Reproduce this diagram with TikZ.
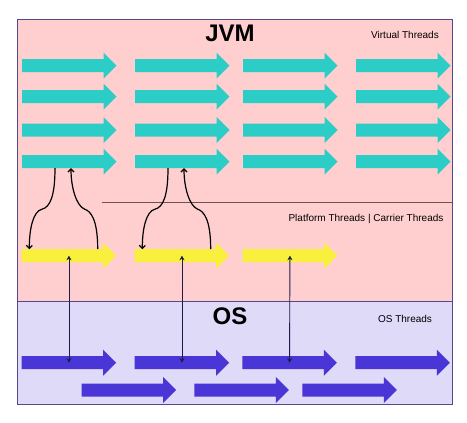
\documentclass[tikz,border=0pt]{standalone}
\usepackage{fontspec}
\setmainfont{Liberation Sans}
\usetikzlibrary{arrows.meta}
\definecolor{jvmpink}{HTML}{FFCFCF}
\definecolor{ospurple}{HTML}{DEDAF7}
\definecolor{boxline}{HTML}{56488C}
\definecolor{vteal}{HTML}{2BCDC6}
\definecolor{pyellow}{HTML}{F8F03C}
\definecolor{oblue}{HTML}{4A36D6}
\definecolor{linknavy}{HTML}{1C1C48}
\definecolor{splitline}{HTML}{6B5353}

\tikzset{
	thread/.pic={
		\fill[#1] (0,-6.5) -- (81.5,-6.5) -- (81.5,-13) -- (94.5,0) -- (81.5,13) -- (81.5,6.5) -- (0,6.5) -- cycle;
		\coordinate (-tail) at (0,0);
		\coordinate (-mid) at (47.25,0);
	},
	hop/.style={line width=1.2,-{Straight Barb[length=3pt,width=6pt]}},
	link/.style={linknavy,line width=0.9,{Stealth[length=4.5pt,width=5pt]}-{Stealth[length=4.5pt,width=5pt]}}
}

\begin{document}
\begin{tikzpicture}[x=1pt,y=-1pt]
	\useasboundingbox (0,0) rectangle (467,423);
	\coordinate (tl) at (17.5,19.5);
	\coordinate (br) at (452,404);
	\coordinate (split) at (17.5,301.7);
	\coordinate (cut) at (101.7,202.7);
	\fill[jvmpink] (tl) rectangle (br |- split);
	\fill[ospurple] (split) rectangle (br);
	\draw[splitline,line width=0.9] (cut) -- (cut -| br);
	\draw[boxline,line width=0.9] (tl) rectangle (br);
	\draw[boxline,line width=0.9] (split) -- (split -| br);
	\node[font=\bfseries\fontsize{24}{24}\selectfont] (jvm) at (230,33.5) {JVM};
	\node[font=\bfseries\fontsize{24}{24}\selectfont] (os) at (230,316) {OS};
	\node (vlabel) at (405,35) {Virtual Threads};
	\node (plabel) at (366,219) {Platform Threads | Carrier Threads};
	\node (olabel) at (405,319) {OS Threads};
	\foreach \r/\y in {1/65.7,2/96.7,3/130,4/161.7}
		\foreach \c/\x in {1/22,2/135,3/243,4/356}
			\pic (v\r\c) at (\x,\y) {thread=vteal};
	\foreach \c/\x in {1/21.7,2/134.7,3/242.7}
		\pic (p\c) at (\x,255.7) {thread=pyellow};
	\foreach \c/\x in {1/21.7,2/134.7,3/242.3,4/355.3}
		\pic (o\c) at (\x,362.7) {thread=oblue};
	\foreach \c/\x in {5/81.7,6/194.3,7/302.3}
		\pic (o\c) at (\x,390) {thread=oblue};
	\foreach \c in {1,2,3}
		\draw[link] (p\c-mid) -- (o\c-mid);
	\foreach \c in {1,2}{
		\draw[hop] ([xshift=33pt,yshift=-6.5pt]v4\c-tail) .. controls +(0,28) and +(8,-2) .. ++(-13,41) .. controls +(-9,2) and +(0,-20) .. ([xshift=7.6pt,yshift=6.5pt]p\c-tail);
		\draw[hop] ([xshift=76pt,yshift=6.5pt]p\c-tail) .. controls +(0,-30) and +(6,2) .. ++(-13,-40) .. controls +(-8,-3) and +(0,20) .. ([xshift=49pt,yshift=-6.5pt]v4\c-tail);
	}
\end{tikzpicture}
\end{document}
